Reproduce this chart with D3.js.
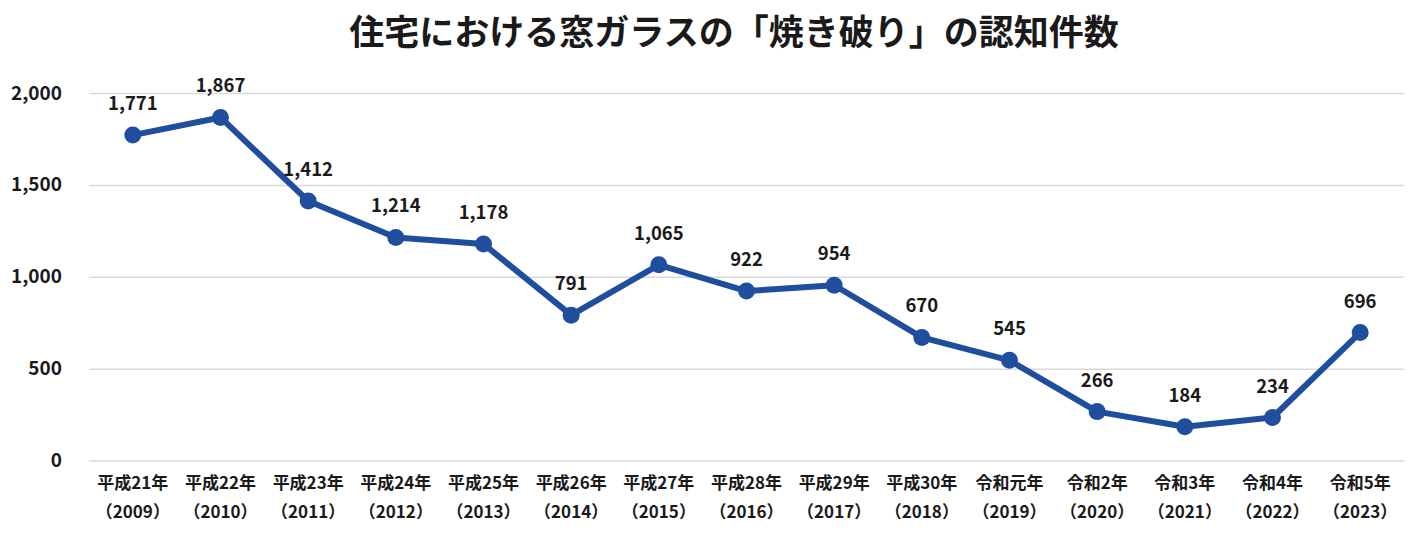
<!DOCTYPE html>
<html><head><meta charset="utf-8">
<script src="https://cdn.jsdelivr.net/npm/d3@7"></script>
<style>
html,body{margin:0;padding:0;background:#fff;}
text{font-family:"Noto Sans CJK JP","Noto Sans",sans-serif;font-weight:bold;fill:#1a1a1a;}
</style></head>
<body>
<svg id="c" width="1420" height="536"></svg>
<script>
const categoriesEra = ["平成21年","平成22年","平成23年","平成24年","平成25年","平成26年","平成27年","平成28年","平成29年","平成30年","令和元年","令和2年","令和3年","令和4年","令和5年"];
const categoriesYear = ["2009","2010","2011","2012","2013","2014","2015","2016","2017","2018","2019","2020","2021","2022","2023"];
const values = [1771,1867,1412,1214,1178,791,1065,922,954,670,545,266,184,234,696];
const yTicks = [0,500,1000,1500,2000];
const title = "住宅における窓ガラスの「焼き破り」の認知件数";

(function(){
const svg = d3.select("#c");
const mLeft = 89, mRight = 1404, mTop = 93, mBottom = 460.5;
const x = d3.scaleBand().domain(d3.range(values.length)).range([mLeft,mRight]);
const y = d3.scaleLinear().domain([0,2000]).range([mBottom,mTop]);
const fmt = d3.format(",");

svg.append("text").attr("x",734).attr("y",45).attr("text-anchor","middle")
  .style("font-size","35px").text(title);

const yAxis = d3.axisLeft(y).tickValues(yTicks).tickSize(-(mRight-mLeft)).tickFormat(fmt).tickPadding(27);
const ga = svg.append("g").attr("transform",`translate(${mLeft},0)`).call(yAxis);
ga.select(".domain").remove();
ga.selectAll(".tick line").attr("stroke","#d9d9d9").attr("stroke-width",1.5);
ga.selectAll(".tick text").style("font-size","19px").style("fill","#1a1a1a");

const cx = i => x(i)+x.bandwidth()/2;

const gx = svg.append("g");
values.forEach((v,i)=>{
  gx.append("text").attr("x",cx(i)).attr("y",489).attr("text-anchor","middle").style("font-size","17px").text(categoriesEra[i]);
  gx.append("text").attr("x",cx(i)).attr("y",518).attr("text-anchor","middle").style("font-size","17px").text("（"+categoriesYear[i]+"）");
});

const line = d3.line().x((d,i)=>cx(i)).y(d=>y(d));
svg.append("path").datum(values).attr("d",line).attr("fill","none")
  .attr("stroke","#1f4e9e").attr("stroke-width",6).attr("stroke-linejoin","round");
svg.selectAll("circle.pt").data(values).enter().append("circle")
  .attr("cx",(d,i)=>cx(i)).attr("cy",d=>y(d)).attr("r",8.5).attr("fill","#1f4e9e");
svg.selectAll("text.lbl").data(values).enter().append("text").attr("class","lbl")
  .attr("x",(d,i)=>cx(i)).attr("y",d=>y(d)-25).attr("text-anchor","middle")
  .style("font-size","18.5px").text(d=>fmt(d));
})();
</script>
</body></html>
